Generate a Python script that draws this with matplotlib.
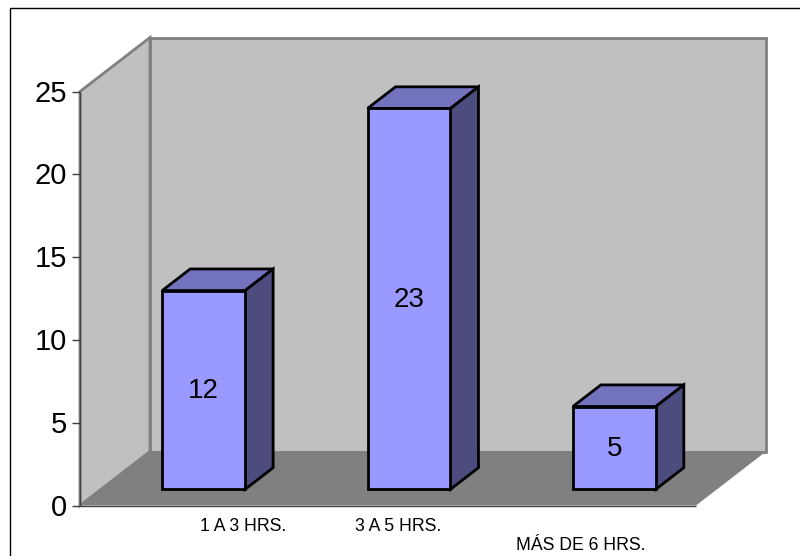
import matplotlib
matplotlib.use('Agg')
import matplotlib.pyplot as plt
from matplotlib.patches import Polygon, Rectangle

plt.rcParams['font.family'] = ['Liberation Sans', 'DejaVu Sans']

#Data
categories = ['1 A 3 HRS.', '3 A 5 HRS.', 'MÁS DE 6 HRS.']
values = [12, 23, 5]
y_ticks = [0, 5, 10, 15, 20, 25]

#Fake 3D look, depth offset of the back wall in data units
W, H = 800, 556
left, right, bottom, top = 80, 696, 505.5, 91.5
x_max = len(categories)
y_max = y_ticks[-1]
px_x = (right - left) / x_max
px_y = (bottom - top) / y_max
depth_x = 70 / px_x
depth_y = 54 / px_y
bar_w = 0.404
bar_d = 0.4


def pr(x, y, z=0.0):
    # z goes from 0 (front) to 1 (back wall)
    return (x + z * depth_x, y + z * depth_y)


fig = plt.figure(figsize=(W / 100, H / 100), dpi=100)
ax = fig.add_axes([left / W, 1 - bottom / H, (right - left) / W, (bottom - top) / H])
ax.set_xlim(0, x_max)
ax.set_ylim(0, y_max)
ax.axis('off')

#Outer frame of the chart
fig.add_artist(Rectangle((10 / W, -0.01), 1.2, 1 - 8 / H + 0.01, transform=fig.transFigure,
                         fill=False, edgecolor='#000000', linewidth=1.0))

#Walls and floor
grey = '#808080'
ax.add_patch(Polygon([pr(0, 0, 1), pr(x_max, 0, 1), pr(x_max, y_max, 1), pr(0, y_max, 1)],
                     facecolor='#C0C0C0', edgecolor=grey, linewidth=2, clip_on=False, joinstyle='miter'))
ax.add_patch(Polygon([pr(0, 0, 0), pr(0, 0, 1), pr(0, y_max, 1), pr(0, y_max, 0)],
                     facecolor='#C0C0C0', edgecolor=grey, linewidth=2, clip_on=False, joinstyle='miter'))
ax.add_patch(Polygon([pr(0, 0, 0), pr(x_max, 0, 0), pr(x_max, 0, 1), pr(0, 0, 1)],
                     facecolor=grey, edgecolor='none', clip_on=False))
ax.plot([0, 0], [0, y_max], color='#404040', lw=1.0, clip_on=False, solid_capstyle='butt')
ax.plot([0, x_max], [0, 0], color='#404040', lw=1.0, clip_on=False, solid_capstyle='butt')

#Y axis ticks
tick_len = 8 / px_x
for t in y_ticks:
    ax.plot([-tick_len, 0], [t, t], color='#404040', lw=1.0, clip_on=False, solid_capstyle='butt')
    ax.text(-tick_len - 5 / px_x, t - 2 / px_y, str(t), ha='right', va='center', fontsize=21, color='black')

#Bars
z0 = (1 - bar_d) / 2
z1 = z0 + bar_d
for i, v in enumerate(values):
    x0 = i + 0.5 - bar_w / 2
    x1 = x0 + bar_w
    style = dict(edgecolor='black', linewidth=2, joinstyle='miter', clip_on=False, zorder=3)
    ax.add_patch(Polygon([pr(x0, v, z0), pr(x1, v, z0), pr(x1, v, z1), pr(x0, v, z1)],
                         facecolor='#7272BE', **style))
    ax.add_patch(Polygon([pr(x1, 0, z0), pr(x1, 0, z1), pr(x1, v, z1), pr(x1, v, z0)],
                         facecolor='#4C4C7F', **style))
    ax.add_patch(Polygon([pr(x0, 0, z0), pr(x1, 0, z0), pr(x1, v, z0), pr(x0, v, z0)],
                         facecolor='#9999FF', **style))
    cx, cy = pr(i + 0.5, v / 2, z0)
    ax.text(cx, cy - 1 / px_y, str(v), ha='center', va='center', fontsize=20, color='black', zorder=4)

#Category labels, the third one sits lower and they are not centred on the bars
label_x = [(243 - left) / px_x, (398 - left) / px_x, (581 - left) / px_x]
label_y = [-21 / px_y, -21 / px_y, -40 / px_y]
for name, lx, ly in zip(categories, label_x, label_y):
    ax.text(lx, ly, name, ha='center', va='center', fontsize=12.7, color='black', clip_on=False)

fig.savefig('out.png', dpi=100)
